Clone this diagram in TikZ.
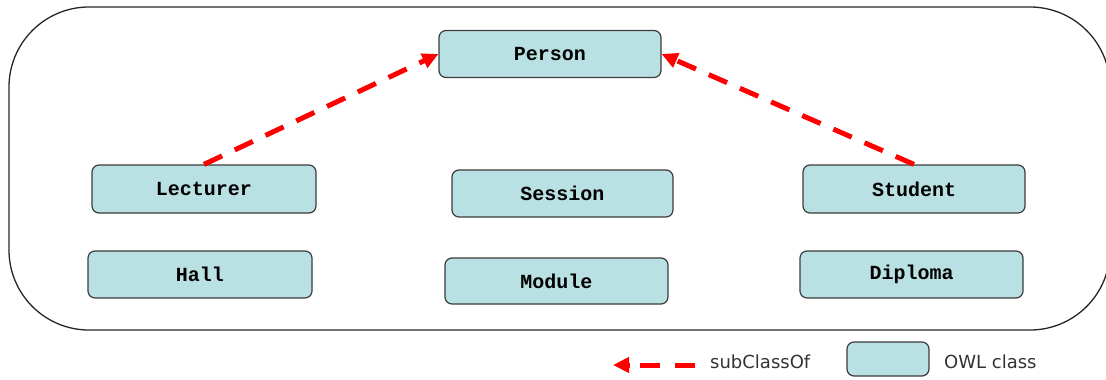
\documentclass[tikz,border=0pt]{standalone}
\usepackage{fontspec}
\setmonofont{Liberation Mono}
\newfontfamily\legendfont{DejaVu Sans}
\usetikzlibrary{arrows.meta}
\definecolor{clsfill}{RGB}{185,224,226}
\definecolor{clsline}{RGB}{60,60,60}
\begin{document}
\begin{tikzpicture}[x=1pt,y=-1pt,
  cls/.style={draw=clsline, line width=1.2pt, fill=clsfill, rounded corners=7pt,
    font=\ttfamily\bfseries\fontsize{20}{22}\selectfont, inner sep=0pt},
  sub/.style={draw=red, line width=5pt, dash pattern=on 20pt off 14pt,
    -{Triangle[length=16pt,width=15pt]}},
  legdash/.style={draw=red, line width=5pt, dash pattern=on 20pt off 15pt},
  legtip/.style={draw=red, line width=5pt, -{Triangle[length=16pt,width=15pt]}},
  frame/.style={draw=black!85, line width=1.3pt, rounded corners=80pt},
  legtext/.style={font=\legendfont\fontsize{18}{20}\selectfont, text=black!80, inner sep=0pt}]
\clip (0,0) rectangle (1106,380);
\draw[frame] (9,7) rectangle (1110,330);
\node[cls, minimum width=222pt, minimum height=47pt] (person) at (550,54) {Person};
\node[cls, minimum width=224pt, minimum height=48pt] (lecturer) at (204,189) {Lecturer};
\node[cls, minimum width=224pt, minimum height=47pt] (hall) at (200,274.5) {Hall};
\node[cls, minimum width=221pt, minimum height=47pt] (session) at (562.5,193.5) {Session};
\node[cls, minimum width=223pt, minimum height=46pt] (module) at (556.5,281) {Module};
\node[cls, minimum width=222pt, minimum height=48pt] (student) at (914,189) {Student};
\node[cls, minimum width=223pt, minimum height=47pt] (diploma) at (911.5,274.5) {Diploma};
\draw[sub] (lecturer.north) -- (person.west);
\draw[sub] (student.north) -- (person.east);
% legend
\coordinate (la) at (695,365);
\coordinate (lc) at (640,365);
\coordinate (ld) at (630,365);
\coordinate (lb) at (613,365);
\draw[legdash] (la) -- (lc);
\draw[legtip] (ld) -- (lb);
\node[legtext, anchor=base west] (lt) at (710,368) {subClassOf};
\node[cls, minimum width=82pt, minimum height=34pt] (lbox) at (888,359) {};
\node[legtext, anchor=base west] (lt2) at (944,368) {OWL class};
\end{tikzpicture}
\end{document}
